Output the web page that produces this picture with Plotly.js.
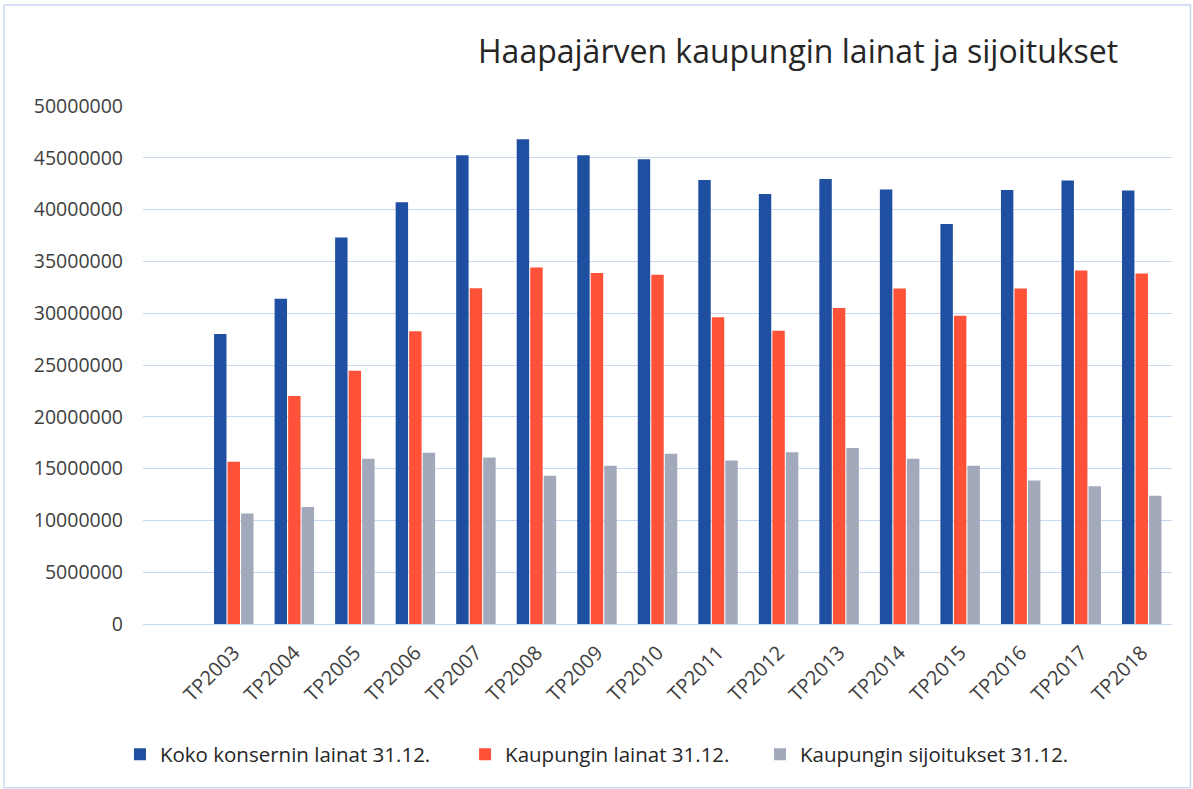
<!DOCTYPE html>
<html>
<head>
<meta charset="utf-8">
<script src="https://cdn.plot.ly/plotly-3.0.1.min.js"></script>
<style>html,body{margin:0;padding:0;background:#fff}#chart{width:1193px;height:789px}</style>
</head>
<body>
<div id="chart"></div>
<script>
const categories = ["TP2003","TP2004","TP2005","TP2006","TP2007","TP2008","TP2009","TP2010","TP2011","TP2012","TP2013","TP2014","TP2015","TP2016","TP2017","TP2018"];
const konserninLainat = [28000000,31400000,37300000,40700000,45250000,46800000,45250000,44850000,42850000,41500000,42950000,41950000,38600000,41900000,42800000,41850000];
const kaupunginLainat = [15650000,22000000,24450000,28250000,32400000,34400000,33870000,33700000,29620000,28300000,30500000,32380000,29750000,32380000,34120000,33830000];
const kaupunginSijoitukset = [10660000,11300000,15960000,16540000,16060000,14320000,15280000,16440000,15770000,16570000,16990000,15960000,15280000,13840000,13290000,12390000];
const seriesNames = ["Koko konsernin lainat 31.12.","Kaupungin lainat 31.12.","Kaupungin sijoitukset 31.12."];
const yTicks = [0,5000000,10000000,15000000,20000000,25000000,30000000,35000000,40000000,45000000,50000000];

const colors = ["#1f4fa0","#ff5238","#a2a9bb"];
const legendIds = ['legend','legend2','legend3'];
const data = [konserninLainat, kaupunginLainat, kaupunginSijoitukset].map((vals,i)=>({
  type:'bar', x:categories, y:vals, name:seriesNames[i], legend:legendIds[i],
  marker:{color:colors[i], line:{width:0}}
}));

const legendBase = {orientation:'h', xanchor:'left', y:-0.252, yanchor:'middle',
  font:{size:20.5, color:'#262626', family:'"Open Sans", sans-serif'}, bgcolor:'rgba(0,0,0,0)', itemwidth:30};

const layout = {
  width:1193, height:789,
  paper_bgcolor:'#fff', plot_bgcolor:'#fff',
  margin:{l:143, r:21, t:106, b:164.5},
  font:{family:'"Open Sans", "Noto Sans", sans-serif', color:'#404040'},
  title:{text:'Haapajärven kaupungin lainat ja sijoitukset', x:0.669, xanchor:'center', y:0.934, yanchor:'middle', xref:'container', yref:'container',
    font:{size:32, color:'#262626', family:'"Open Sans", sans-serif'}},
  barmode:'group', bargap:0.33, bargroupgap:0.08,
  xaxis:{type:'category', range:[-1.5,15.5], tickangle:-45, tickfont:{size:20, color:'#404040'},
    showgrid:false, showline:false, ticks:'', zeroline:false, ticklabelstandoff:12},
  yaxis:{range:[0,50000000], tickvals:yTicks, ticktext:yTicks.map(String), tickfont:{size:19.5, color:'#404040'},
    showgrid:true, gridcolor:'#c9d8f2', gridwidth:1, zeroline:true, zerolinecolor:'#c9d8f2', zerolinewidth:1,
    showline:false, ticks:'', ticklabelstandoff:19},
  showlegend:true,
  legend:Object.assign({}, legendBase, {x:-0.0224}),
  legend2:Object.assign({}, legendBase, {x:0.313}),
  legend3:Object.assign({}, legendBase, {x:0.5996}),
  shapes:[{type:'rect', xref:'paper', yref:'paper', x0:-0.135, x1:1.018, y0:-0.316, y1:1.195,
    line:{color:'#c9d8f2', width:1.5}, fillcolor:'rgba(0,0,0,0)', layer:'below'}]
};
Plotly.newPlot('chart', data, layout, {displayModeBar:false, staticPlot:true});
</script>
</body>
</html>
